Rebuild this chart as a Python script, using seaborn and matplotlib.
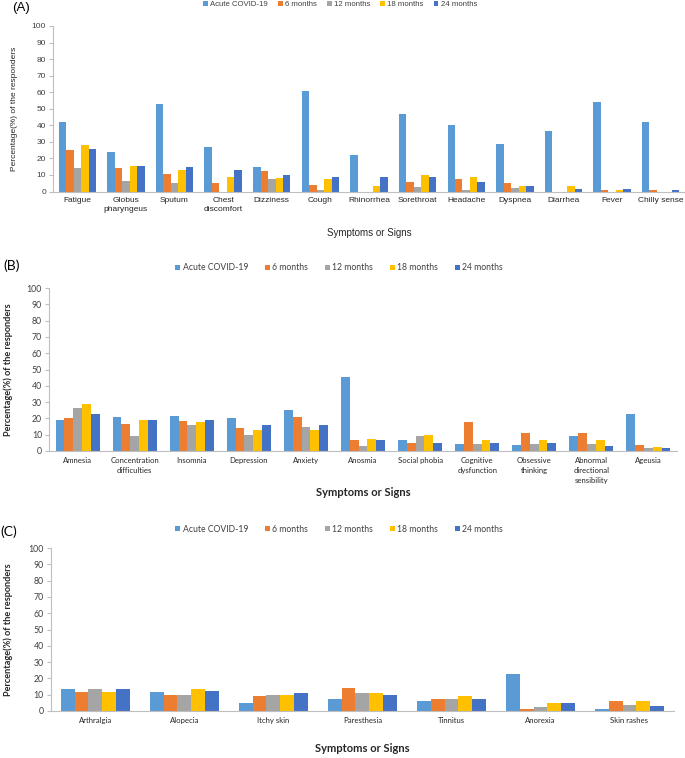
import numpy as np
import pandas as pd
import seaborn as sns
import matplotlib
matplotlib.use("Agg")
import matplotlib.pyplot as plt
from matplotlib.patches import Patch

# ---------------- data ----------------
periods = ["Acute COVID-19", "6 months", "12 months", "18 months", "24 months"]
colors = ["#5B9BD5", "#ED7D31", "#A5A5A5", "#FFC000", "#4472C4"]

a_symptoms = ["Fatigue", "Globus\npharyngeus", "Sputum", "Chest\ndiscomfort", "Dizziness",
              "Cough", "Rhinorrhea", "Sorethroat", "Headache", "Dyspnea", "Diarrhea",
              "Fever", "Chilly sense"]
a_acute = [42, 24, 53, 27, 15, 61, 22, 47, 40, 29, 36.5, 54, 42]
a_6m = [25, 14, 10.5, 5, 12.5, 4, 0, 6, 7.5, 5, 0, 1, 1]
a_12m = [14, 6.5, 5, 0, 7.5, 1, 0, 2.5, 1, 2, 0, 0, 0]
a_18m = [28, 15.5, 13, 9, 8, 7.5, 3.5, 10, 9, 3.5, 3.5, 1, 0]
a_24m = [25.5, 15.5, 15, 13, 10, 9, 9, 8.5, 6, 3.5, 1.5, 1.5, 1]

b_symptoms = ["Amnesia", "Concentration\ndifficulties", "Insomnia", "Depression", "Anxiety",
              "Anosmia", "Social phobia", "Cognitive\ndysfunction", "Obsessive\nthinking",
              "Abnormal\ndirectional\nsensibility", "Ageusia"]
b_acute = [19, 21, 21.5, 20, 25, 45.5, 7, 4, 3.5, 9, 23]
b_6m = [20, 16.5, 18.5, 14, 21, 7, 5, 17.5, 11, 11, 3.5]
b_12m = [26.5, 9, 16, 10, 15, 3, 9, 4, 4, 4, 2]
b_18m = [29, 19, 17.5, 13, 13, 7.5, 10, 7, 7, 7, 2.5]
b_24m = [23, 19, 19, 16, 16, 7, 5, 5, 5, 3, 2]

c_symptoms = ["Arthralgia", "Alopecia", "Itchy skin", "Paresthesia", "Tinnitus",
              "Anorexia", "Skin rashes"]
c_acute = [13.5, 11.5, 5, 7.5, 6, 22.5, 1.5]
c_6m = [11.5, 10, 9, 14, 7.5, 1.5, 6]
c_12m = [13.5, 10, 10, 11, 7.5, 2.5, 3.5]
c_18m = [11.5, 13.5, 10, 11, 9, 5, 6]
c_24m = [13.5, 12.5, 11, 10, 7.5, 5, 3]

y_ticks = [0, 10, 20, 30, 40, 50, 60, 70, 80, 90, 100]
y_label = "Percentage(%) of the responders"
x_label = "Symptoms or Signs"


def long_df(symptoms, series):
    rows = []
    for period, vals in zip(periods, series):
        for s, v in zip(symptoms, vals):
            rows.append({"symptom": s, "period": period, "value": v})
    return pd.DataFrame(rows)


sns.set_theme(style="white")
plt.rcParams["font.family"] = ["Liberation Sans", "DejaVu Sans"]

W, H = 685, 758
fig = plt.figure(figsize=(W / 100, H / 100), dpi=100)


def fx(px):
    return px / W


def fy(py):
    return 1 - py / H


def panel(rect, symptoms, series, font, tick_fs, ytick_fs, ylab_kw, ylab_x, xlab_y, xlab_kw,
          leg_y, leg_x, leg_fs, colsp, tag, tag_xy, tag_fs, lsp):
    left, top, right, bottom = rect
    ax = fig.add_axes([fx(left), fy(bottom), fx(right) - fx(left), fy(top) - fy(bottom)])
    df = long_df(symptoms, series)
    sns.barplot(data=df, x="symptom", y="value", hue="period", hue_order=periods,
                palette=colors, saturation=1, width=0.77, gap=0, legend=False,
                errorbar=None, ax=ax, linewidth=0)
    n = len(symptoms)
    ax.set_xlim(-0.5, n - 0.5)
    ax.set_ylim(0, 100)
    ax.set_yticks(y_ticks)
    ax.set_yticklabels([str(t) for t in y_ticks], fontsize=ytick_fs, family=font, color="#404040")
    ax.set_xticks(range(n))
    ax.set_xticklabels(symptoms, fontsize=tick_fs, family=font, color="#262626",
                       linespacing=lsp, va="top")
    ax.set_xticks(np.arange(-0.5, n, 1.0), minor=True)
    ax.tick_params(axis="x", which="major", length=0, pad=4)
    ax.tick_params(axis="x", which="minor", length=3, color="#BFBFBF", width=0.8, direction="out")
    ax.tick_params(axis="y", which="major", length=3, color="#BFBFBF", width=0.8,
                   direction="out", pad=2, left=True)
    for s in ["top", "right"]:
        ax.spines[s].set_visible(False)
    for s in ["left", "bottom"]:
        ax.spines[s].set_color("#BFBFBF")
        ax.spines[s].set_linewidth(0.8)
    ax.set_xlabel("")
    ax.set_ylabel("")
    fig.text(fx(ylab_x), fy((top + bottom) / 2), y_label, rotation=90, ha="center",
             va="center", family=font, color="#262626", **ylab_kw)
    fig.text(fx((left + right) / 2), fy(xlab_y), x_label, ha="center", va="center",
             family=font, color="#262626", **xlab_kw)
    handles = [Patch(facecolor=c, edgecolor="none") for c in colors]
    fig.legend(handles, periods, loc="center left", bbox_to_anchor=(fx(leg_x), fy(leg_y)),
               ncol=5, frameon=False, handlelength=0.6, handleheight=0.6,
               handletextpad=0.3, columnspacing=colsp, borderpad=0, borderaxespad=0,
               prop={"family": font, "size": leg_fs}, labelcolor="#404040")
    fig.text(fx(tag_xy[0]), fy(tag_xy[1]), tag, ha="left", va="center", family=font,
             fontsize=tag_fs, color="#000000")
    return ax


panel((53, 26, 685, 191.5), a_symptoms, [a_acute, a_6m, a_12m, a_18m, a_24m],
      ["Liberation Sans", "DejaVu Sans"], 6, 6, {"fontsize": 6}, 15, 233,
      {"fontsize": 7}, 4.5, 203, 5.6, 1.3, "(A)", (12, 8), 9.5, 1.3)

panel((49, 288, 677, 451), b_symptoms, [b_acute, b_6m, b_12m, b_18m, b_24m],
      ["Lato", "DejaVu Sans"], 5.6, 6.3, {"fontsize": 6.6, "fontweight": "bold"}, 8, 493,
      {"fontsize": 8, "fontweight": "bold"}, 268, 175, 6.2, 1.9, "(B)", (3, 266), 10, 1.5)

panel((50.7, 548, 674, 711), c_symptoms, [c_acute, c_6m, c_12m, c_18m, c_24m],
      ["Lato", "DejaVu Sans"], 5.6, 6.3, {"fontsize": 6.6, "fontweight": "bold"}, 8, 748,
      {"fontsize": 8, "fontweight": "bold"}, 529, 175, 6.2, 1.9, "(C)", (0, 532), 10, 1.5)

fig.savefig("out.png", dpi=100)
